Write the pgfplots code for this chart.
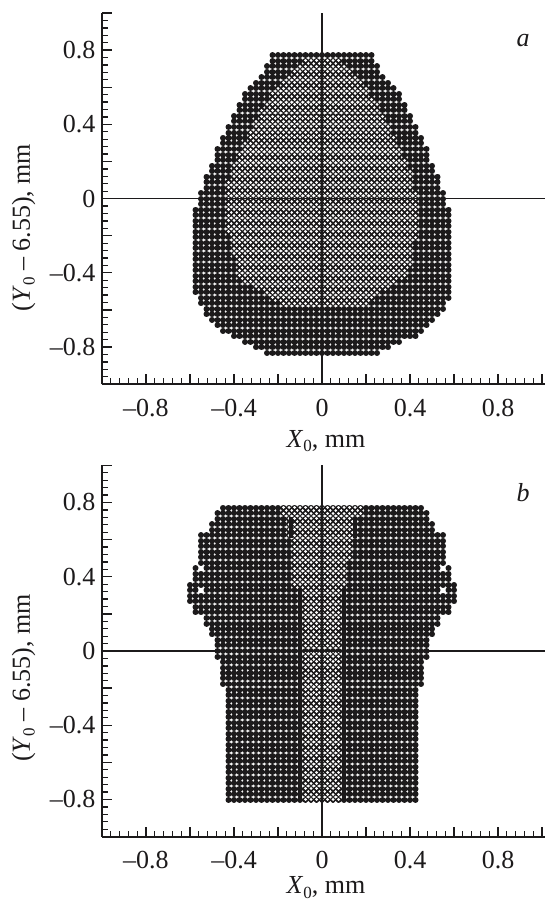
\documentclass[border=0pt]{standalone}
\usepackage{fontspec}
\setmainfont{Liberation Serif}
\usepackage{pgfplots}
\usepackage{pgfplotstable}
\pgfplotsset{compat=1.18}
\definecolor{ink}{HTML}{1C1A1B}
\newcommand{\lab}{\fontsize{26}{29}\selectfont}
\newcommand{\sub}{\raisebox{-0.18em}{\fontsize{17}{17}\selectfont 0}}

\pgfplotstableread{
y xl xr
.772 -.225 .225
.742 -.225 .225
.713 -.25 .25
.683 -.25 .25
.653 -.275 .275
.624 -.3 .3
.594 -.325 .325
.564 -.35 .35
.534 -.35 .35
.505 -.375 .375
.475 -.375 .375
.445 -.4 .4
.416 -.4 .4
.386 -.425 .425
.356 -.425 .425
.327 -.45 .45
.297 -.45 .45
.267 -.475 .475
.237 -.475 .475
.208 -.475 .475
.178 -.5 .5
.148 -.5 .5
.119 -.525 .525
.089 -.525 .525
.059 -.525 .525
.030 -.55 .55
0 -.55 .55
-.030 -.55 .55
-.059 -.575 .575
-.089 -.575 .575
-.119 -.575 .575
-.148 -.575 .575
-.178 -.575 .575
-.208 -.575 .575
-.237 -.575 .575
-.267 -.575 .575
-.297 -.575 .575
-.327 -.575 .575
-.356 -.575 .575
-.386 -.575 .575
-.416 -.575 .575
-.445 -.575 .575
-.475 -.575 .575
-.505 -.575 .575
-.534 -.55 .575
-.564 -.55 .55
-.594 -.525 .55
-.624 -.525 .525
-.653 -.5 .5
-.683 -.475 .475
-.713 -.45 .45
-.742 -.4 .425
-.772 -.35 .35
-.802 -.3 .3
-.832 -.25 .25
}\outerA

\pgfplotstableread{
y xl xr
.742 -.075 .075
.713 -.1 .1
.683 -.125 .125
.653 -.15 .15
.624 -.175 .175
.594 -.2 .2
.564 -.225 .2
.534 -.225 .225
.505 -.25 .25
.475 -.275 .25
.445 -.275 .275
.416 -.3 .275
.386 -.3 .3
.356 -.325 .3
.327 -.325 .325
.297 -.35 .325
.267 -.35 .35
.237 -.375 .35
.208 -.375 .375
.178 -.4 .375
.148 -.4 .4
.119 -.4 .4
.089 -.425 .4
.059 -.425 .4
.030 -.425 .425
0 -.425 .425
-.030 -.425 .425
-.059 -.425 .425
-.089 -.425 .425
-.119 -.425 .425
-.148 -.425 .425
-.178 -.425 .425
-.208 -.4 .425
-.237 -.4 .4
-.267 -.4 .4
-.297 -.4 .4
-.327 -.375 .4
-.356 -.375 .4
-.386 -.375 .375
-.416 -.375 .375
-.445 -.35 .325
-.475 -.3 .3
-.505 -.25 .25
-.534 -.225 .225
-.564 -.175 .2
}\innerA

\pgfplotstableread{
y xl xr
.772 -.45 .45
.742 -.475 .475
.713 -.475 .475
.683 -.5 .5
.653 -.5 .5
.624 -.55 .55
.594 -.55 .55
.564 -.55 .55
.534 -.55 .55
.505 -.55 .55
.475 -.55 .55
.445 -.575 -.575
.445 -.525 .525
.445 .575 .575
.416 -.575 .575
.386 -.575 .575
.356 -.6 .6
.327 -.6 -.575
.327 -.525 .525
.327 .575 .6
.297 -.6 .6
.267 -.6 .6
.237 -.575 .575
.208 -.575 .575
.178 -.525 .525
.148 -.525 .525
.119 -.5 .5
.089 -.5 .5
.059 -.475 .475
.030 -.475 .475
0 -.475 .475
-.030 -.475 .475
-.059 -.45 .45
-.089 -.45 .45
-.119 -.45 .45
-.148 -.45 .45
-.178 -.45 .45
-.208 -.425 .425
-.237 -.425 .425
-.267 -.425 .425
-.297 -.425 .425
-.327 -.425 .425
-.356 -.425 .425
-.386 -.425 .425
-.416 -.425 .425
-.445 -.425 .425
-.475 -.425 .425
-.505 -.425 .425
-.534 -.425 .425
-.564 -.425 .425
-.594 -.425 .425
-.624 -.425 .425
-.653 -.425 .425
-.683 -.425 .425
-.713 -.425 .425
-.742 -.425 .425
-.772 -.425 .425
-.802 -.425 .425
}\outerB

\pgfplotstableread{
y xl xr
.772 -.175 .175
.742 -.175 .175
.713 -.15 .15
.683 -.15 .15
.653 -.15 .15
.624 -.15 .15
.594 -.125 .125
.564 -.125 .125
.534 -.125 .125
.505 -.125 .125
.475 -.125 .1
.445 -.125 .1
.416 -.125 .1
.386 -.125 .1
.356 -.125 .1
.327 -.075 .075
.297 -.075 .075
.267 -.075 .075
.237 -.075 .075
.208 -.075 .075
.178 -.075 .075
.148 -.075 .075
.119 -.075 .075
.089 -.075 .075
.059 -.075 .075
.030 -.075 .075
0 -.075 .075
-.030 -.075 .075
-.059 -.075 .075
-.089 -.075 .075
-.119 -.075 .075
-.148 -.075 .075
-.178 -.075 .075
-.208 -.075 .075
-.237 -.075 .075
-.267 -.075 .075
-.297 -.075 .075
-.327 -.075 .075
-.356 -.075 .075
-.386 -.075 .075
-.416 -.075 .075
-.445 -.075 .075
-.475 -.075 .075
-.505 -.075 .075
-.534 -.075 .075
-.564 -.075 .075
-.594 -.075 .075
-.624 -.075 .075
-.653 -.075 .075
-.683 -.075 .075
-.713 -.075 .075
-.742 -.075 .075
-.772 -.075 .075
-.802 -.075 .075
}\innerB

% one table row (y, xl, xr) becomes one run of lattice dots along that row
% #1 table, #2 shift of start, #3 shift of end, #4 shift in y, #5 colour, #6 dot diameter
\newcommand{\rowsplot}[6]{%
  \pgfplotstablegetrowsof{#1}%
  \pgfmathtruncatemacro\rowN{\pgfplotsretval-1}%
  \def\buf{}%
  \pgfplotsforeachungrouped \i in {0,...,\rowN}{%
    \pgfplotstablegetelem{\i}{y}\of{#1}\let\ry\pgfplotsretval
    \pgfplotstablegetelem{\i}{xl}\of{#1}\let\rl\pgfplotsretval
    \pgfplotstablegetelem{\i}{xr}\of{#1}\let\rr\pgfplotsretval
    \pgfmathsetmacro\ya{\ry+#4}%
    \pgfmathsetmacro\xa{\rl+#2}%
    \pgfmathsetmacro\xb{\rr+#3}%
    \edef\buf{\buf(\xa,\ya)(\xb,\ya)(nan,nan)}%
  }%
  \edef\cmd{\noexpand\addplot[dots={#5}{#6}] coordinates {\buf};}%
  \cmd
}

\pgfplotsset{
  panel/.style={
    scale only axis, width=443.3pt, height=371.2pt,
    xmin=-1, xmax=1.015, ymin=-1, ymax=1,
    clip=false,
    axis lines=left,
    axis line style={-, line width=2pt, ink},
    tick style={line width=1.3pt, ink},
    tick align=inside,
    major tick length=10pt, minor tick length=6pt,
    xtick={-1,-0.8,-0.6,-0.4,-0.2,0,0.2,0.4,0.6,0.8,1},
    ytick={-1,-0.8,-0.6,-0.4,-0.2,0,0.2,0.4,0.6,0.8,1},
    xticklabels={,–0.8,,–0.4,,0,,0.4,,0.8,},
    yticklabels={,–0.8,,–0.4,,0,,0.4,,0.8,},
    minor tick num=4,
    tick label style={font=\lab, text=ink},
    xticklabel style={yshift=-11pt},
    yticklabel style={xshift=-3pt},
    label style={font=\lab, text=ink},
    xlabel={\textit{X}\sub, mm},
    ylabel={(\textit{Y}\sub\ – 6.55), mm},
    unbounded coords=jump,
  },
  dots/.style n args={2}{
    no markers, color=#1, solid, line width=#2, line cap=round,
    dash pattern=on 0.02pt off 5.48pt, forget plot,
  },
}

\newcommand{\lattice}[2]{%
  \rowsplot{#1}{0}{0.001}{0}{ink}{6.0pt}%
  \rowsplot{#2}{0}{0.001}{0}{white}{3.0pt}%
  \rowsplot{#2}{0.0125}{-0.0115}{-0.0148}{white}{2.6pt}%
}

\begin{document}
\begin{tikzpicture}[x=1pt,y=1pt]
\useasboundingbox (0,0) rectangle (549,-903);

\begin{axis}[panel, at={(102pt,-384.2pt)}, anchor=south west,
  xlabel style={at={(axis cs:0.018,-1)}, anchor=base, yshift=-63pt},
  ylabel style={at={(axis cs:-1,-0.156)}, anchor=base, yshift=72pt}]
  \lattice{\outerA}{\innerA}
  \addplot[ink,line width=1.2pt] coordinates {(-1,0)(1.015,0)};
  \addplot[ink,line width=1.2pt] coordinates {(0,-1)(0,1)};
  \node[font=\lab\itshape,text=ink] at (axis cs:0.914,0.854) {a};
\end{axis}

\begin{axis}[panel, at={(102pt,-836.6pt)}, anchor=south west,
  xlabel style={at={(axis cs:0.018,-1)}, anchor=base, yshift=-57pt},
  ylabel style={at={(axis cs:-1,-0.145)}, anchor=base, yshift=72pt}]
  \lattice{\outerB}{\innerB}
  \addplot[ink,line width=4pt] coordinates {(-0.1,0.33)(-0.1,-0.8)};
  \addplot[ink,line width=4pt] coordinates {(0.102,0.33)(0.102,-0.8)};
  \addplot[ink,line width=4pt] coordinates {(-0.143,0.72)(-0.143,0.61)};
  \addplot[ink,line width=4pt] coordinates {(0.15,0.72)(0.15,0.61)};
  \addplot[ink,line width=1.2pt] coordinates {(-1,0)(1.015,0)};
  \addplot[ink,line width=1.2pt] coordinates {(0,-1)(0,1)};
  \node[font=\lab\itshape,text=ink] at (axis cs:0.914,0.854) {b};
\end{axis}
\end{tikzpicture}
\end{document}
